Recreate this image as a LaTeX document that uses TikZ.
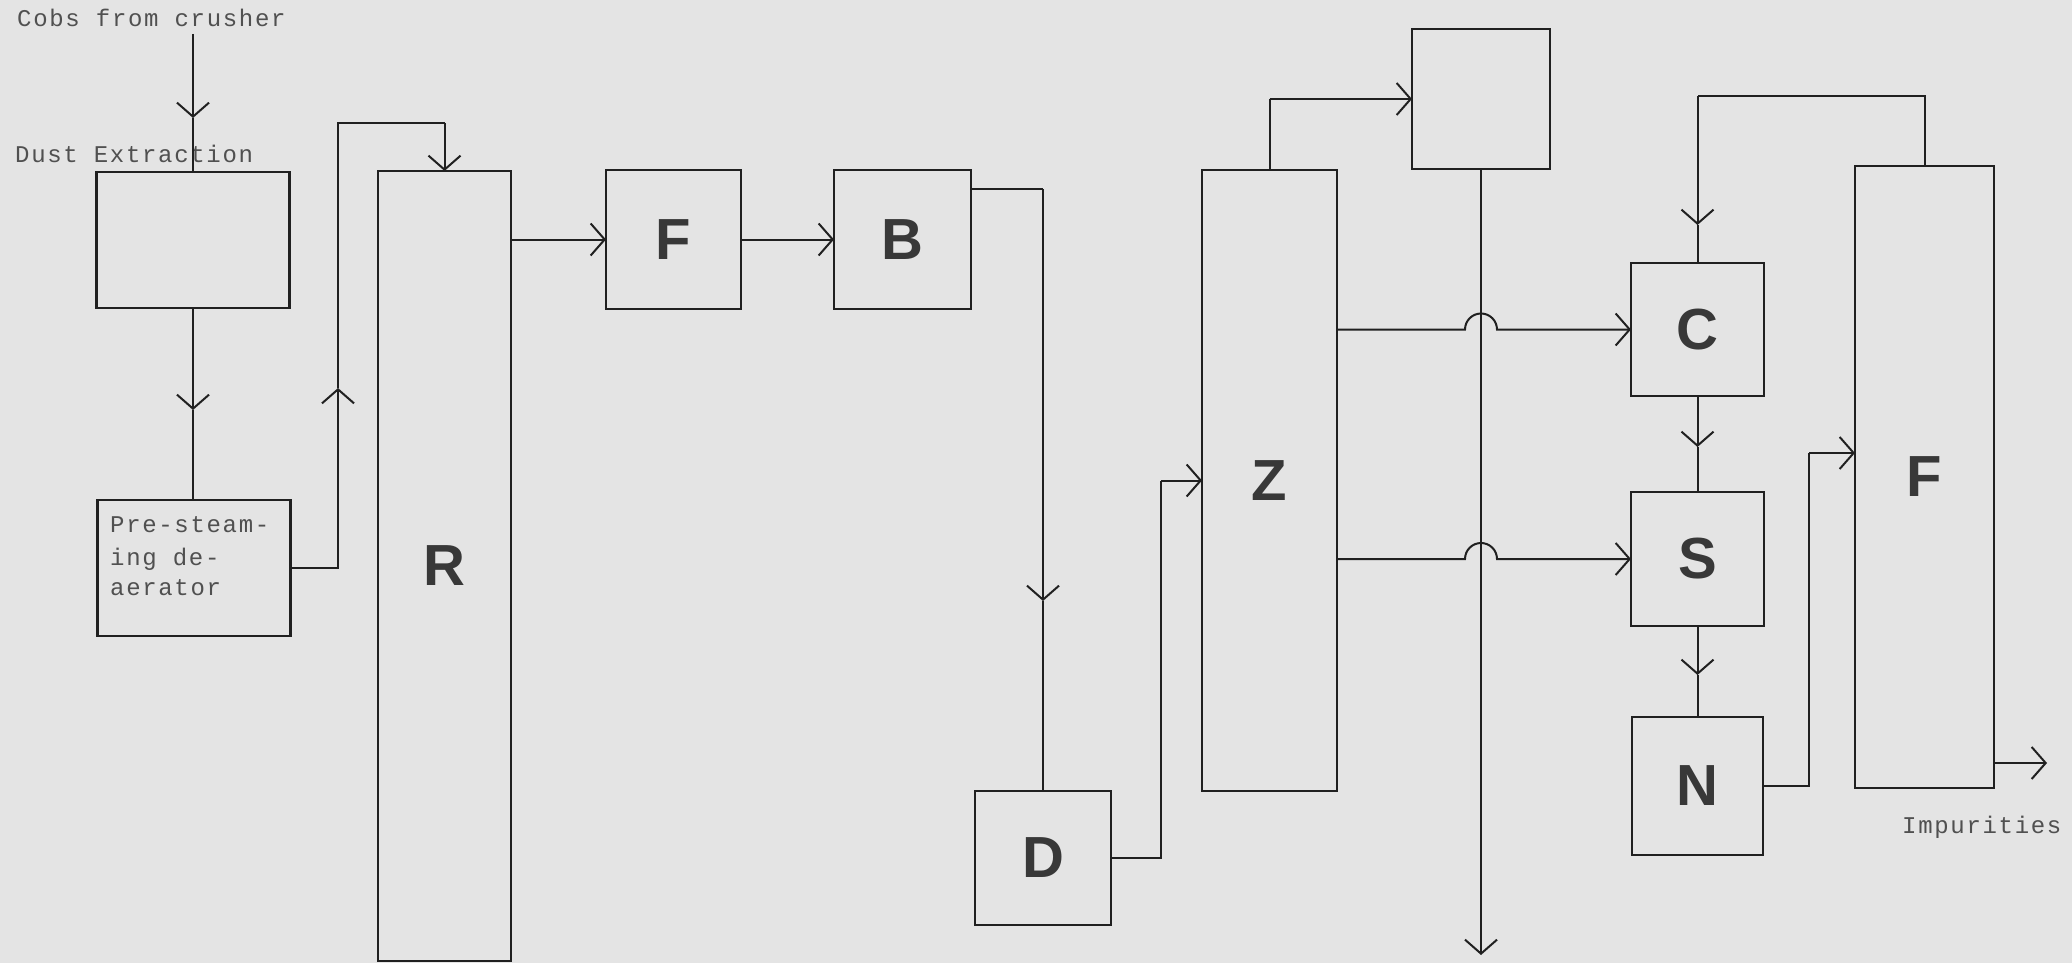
\documentclass[tikz,border=0pt]{standalone}
\usepackage{fontspec}
\usetikzlibrary{arrows.meta}
\newfontfamily\twfont{Liberation Mono}[LetterSpace=7]
\newfontfamily\bigfont{Liberation Sans}
\definecolor{paper}{RGB}{228,228,228}
\definecolor{ink}{RGB}{32,32,32}
\definecolor{typeink}{RGB}{80,80,80}
\tikzset{
  box/.style={draw=ink, line width=2.2pt, inner sep=0pt, outer sep=0pt, rectangle,
    font=\bigfont\fontsize{58}{58}\selectfont\bfseries, text=black!78},
  conn/.style={draw=ink, line width=2pt},
  arr/.style={conn, -{Straight Barb[length=14pt,width=32pt,line width=2pt]}},
  typed/.style={font=\twfont\fontsize{24}{24}\selectfont, text=typeink, inner sep=0pt, anchor=base west},
}
\begin{document}
\begin{tikzpicture}[x=1pt,y=1pt]
\fill[paper] (0,0) rectangle (2072,-963);
\useasboundingbox (0,0) rectangle (2072,-963);

% boxes
\node[box, minimum width=193pt, minimum height=136pt] (dust) at (193,-240) {};
\node[box, minimum width=193pt, minimum height=136pt] (pre) at (194,-568) {};
\node[box, minimum width=133pt, minimum height=790pt] (R) at (444.5,-566) {R};
\node[box, minimum width=135pt, minimum height=139pt] (F1) at (673.5,-239.5) {F};
\node[box, minimum width=137pt, minimum height=139pt] (B) at (902.5,-239.5) {B};
\node[box, minimum width=136pt, minimum height=134pt] (D) at (1043,-858) {D};
\node[box, minimum width=135pt, minimum height=621pt] (Z) at (1269.5,-480.5) {Z};
\node[box, minimum width=138pt, minimum height=140pt] (T) at (1481,-99) {};
\node[box, minimum width=133pt, minimum height=133pt] (C) at (1697.5,-329.5) {C};
\node[box, minimum width=133pt, minimum height=134pt] (S) at (1697.5,-559) {S};
\node[box, minimum width=131pt, minimum height=138pt] (N) at (1697.5,-786) {N};
\node[box, minimum width=139pt, minimum height=622pt] (F2) at (1924.5,-477) {F};

% texts
\node[typed] (cobs) at (17,-27) {Cobs from crusher};
\node[typed] (dusttxt) at (15,-162) {Dust Extraction};
\node[typed] (pre1) at (110,-532) {Pre-steam-};
\node[typed] (pre2) at (110,-565) {ing de-};
\node[typed] (pre3) at (110,-595) {aerator};
\node[typed] (imp) at (1902,-833) {Impurities};

% helper coordinates
\coordinate (cobsEnd) at (193,-34);
\coordinate (m1) at (193,-118);
\coordinate (m2) at (193,-410);
\coordinate (k0) at (338,-568);
\coordinate (m3) at (338,-388);
\coordinate (k1) at (338,-123);
\coordinate (k2) at (444.5,-123);
\coordinate (b1) at (971,-189);
\coordinate (b2) at (1043,-189);
\coordinate (m4) at (1043,-601);
\coordinate (d1) at (1161,-858);
\coordinate (d2) at (1161,-480.5);
\coordinate (z1) at (1269.5,-99);
\coordinate (tEnd) at (1481,-955);
\coordinate (m5) at (1697.5,-447);
\coordinate (m6) at (1697.5,-675);
\coordinate (n1) at (1809,-786);
\coordinate (n2) at (1809,-453);
\coordinate (n3) at (1855,-453);
\coordinate (f1) at (1924.5,-96);
\coordinate (f2) at (1697.5,-96);
\coordinate (m7) at (1697.5,-225);
\coordinate (i1) at (1994,-763);
\coordinate (i2) at (2047,-763);

% connectors
\draw[arr] (cobsEnd) -- (m1);
\draw[conn] (m1) -- (dust.north);
\draw[arr] (dust.south) -- (m2);
\draw[conn] (m2) -- (m2 |- pre.north);
\draw[arr] (pre.east) -- (k0) -- (m3);
\draw[conn] (m3) -- (k1) -- (k2);
\draw[arr] (k2) -- (R.north);
\draw[arr] (R.east |- F1.west) -- (F1.west);
\draw[arr] (F1.east) -- (B.west);
\draw[conn] (b1) -- (b2);
\draw[arr] (b2) -- (m4);
\draw[conn] (m4) -- (D.north);
\draw[conn] (D.east) -- (d1) -- (d2);
\draw[arr] (d2) -- (Z.west);
\draw[conn] (Z.north) -- (z1);
\draw[arr] (z1) -- (T.west);
\draw[arr] (T.south) -- (tEnd);
% Z -> C and Z -> S with line jumps over the T line
\draw[arr] (Z.east |- C.west) -- ([xshift=-16pt]T.south |- C.west)
   arc[start angle=180, end angle=0, radius=16pt] -- (C.west);
\draw[arr] (Z.east |- S.west) -- ([xshift=-16pt]T.south |- S.west)
   arc[start angle=180, end angle=0, radius=16pt] -- (S.west);
\draw[arr] (C.south) -- (m5);
\draw[conn] (m5) -- (S.north);
\draw[arr] (S.south) -- (m6);
\draw[conn] (m6) -- (N.north);
\draw[conn] (N.east) -- (n1) -- (n2);
\draw[arr] (n2) -- (n3);
\draw[conn] (F2.north) -- (f1) -- (f2);
\draw[arr] (f2) -- (m7);
\draw[conn] (m7) -- (C.north);
\draw[arr] (i1) -- (i2);
\end{tikzpicture}
\end{document}
